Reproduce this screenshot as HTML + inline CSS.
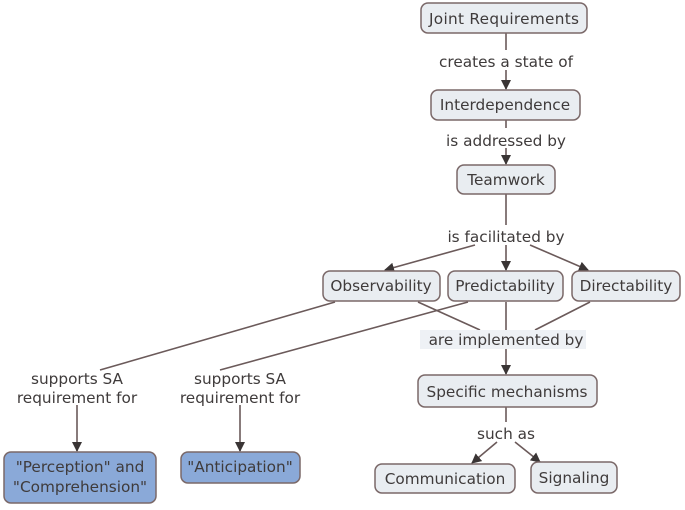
<!DOCTYPE html>
<html><head><style>
body{margin:0;background:#fff;width:685px;height:506px;overflow:hidden;font-family:"DejaVu Sans",sans-serif;}
</style></head><body>
<svg width="685" height="506" viewBox="0 0 685 506" xmlns="http://www.w3.org/2000/svg" font-family="DejaVu Sans, sans-serif" font-size="15.3" fill="#3f3b3b">
<defs><marker id="a" markerWidth="10" markerHeight="10" refX="9" refY="5" orient="auto" markerUnits="userSpaceOnUse"><path d="M0,0 L10,5 L0,10 z" fill="#3a3535"/></marker></defs>
<g stroke="#6b5a5a" stroke-width="1.6" fill="none">
<line x1="506" y1="33" x2="506" y2="50"/><line x1="506" y1="70" x2="506" y2="89" marker-end="url(#a)"/>
<line x1="506" y1="120" x2="506" y2="128"/><line x1="506" y1="148" x2="506" y2="164" marker-end="url(#a)"/>
<line x1="506" y1="194" x2="506" y2="225"/><line x1="506" y1="245" x2="506" y2="270" marker-end="url(#a)"/>
<line x1="475" y1="245" x2="385" y2="270" marker-end="url(#a)"/>
<line x1="530" y1="245" x2="588" y2="270" marker-end="url(#a)"/>
<line x1="335" y1="302" x2="100" y2="370"/>
<line x1="468" y1="302" x2="220" y2="370"/>
<line x1="418" y1="302" x2="480" y2="330"/>
<line x1="590" y1="302" x2="535" y2="330"/>
<line x1="506" y1="302" x2="506" y2="330"/>
<line x1="506" y1="348" x2="506" y2="374" marker-end="url(#a)"/>
<line x1="77" y1="405" x2="77" y2="451" marker-end="url(#a)"/>
<line x1="240" y1="405" x2="240" y2="451" marker-end="url(#a)"/>
<line x1="506" y1="407" x2="506" y2="422"/>
<line x1="497" y1="442" x2="472" y2="463" marker-end="url(#a)"/>
<line x1="515" y1="442" x2="540" y2="462" marker-end="url(#a)"/>
</g>
<g stroke="#7a6868" stroke-width="1.5" fill="#e9edf1">
<rect x="421" y="3" width="166" height="30" rx="7"/>
<rect x="431" y="90" width="149" height="30" rx="7"/>
<rect x="457" y="165" width="98" height="29" rx="7"/>
<rect x="323" y="271" width="117" height="30" rx="7"/>
<rect x="448" y="271" width="115" height="30" rx="7"/>
<rect x="572" y="271" width="108" height="30" rx="7"/>
<rect x="418" y="375" width="179" height="32" rx="7"/>
<rect x="375" y="464" width="140" height="29" rx="7"/>
<rect x="531" y="462" width="86" height="31" rx="7"/>
<rect x="4" y="452" width="152" height="51" rx="7" fill="#8aa9d8"/>
<rect x="181" y="452" width="119" height="31" rx="7" fill="#8aa9d8"/>
</g>
<rect x="420" y="330" width="166" height="19" fill="#eef1f5"/>
<g text-anchor="middle">
<text x="504" y="24" textLength="150">Joint Requirements</text>
<text x="506" y="67">creates a state of</text>
<text x="505" y="110">Interdependence</text>
<text x="506" y="146">is addressed by</text>
<text x="506" y="185">Teamwork</text>
<text x="506" y="242">is facilitated by</text>
<text x="381" y="291">Observability</text>
<text x="505" y="291">Predictability</text>
<text x="626" y="291">Directability</text>
<text x="506" y="345">are implemented by</text>
<text x="507" y="397">Specific mechanisms</text>
<text x="506" y="439">such as</text>
<text x="445" y="484">Communication</text>
<text x="574" y="483">Signaling</text>
<text x="77" y="384">supports SA</text>
<text x="77" y="403">requirement for</text>
<text x="240" y="384">supports SA</text>
<text x="240" y="403">requirement for</text>
<text x="80" y="472">"Perception" and</text>
<text x="80" y="492">"Comprehension"</text>
<text x="240" y="472">"Anticipation"</text>
</g>
</svg>
</body></html>
